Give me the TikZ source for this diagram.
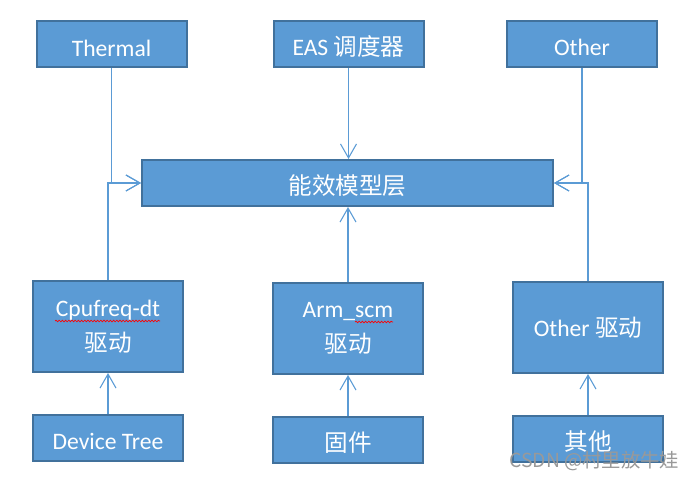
\documentclass[tikz,border=0pt]{standalone}
\usepackage{fontspec}
\setmainfont{Carlito}
\newfontfamily\cjk{Noto Sans CJK SC}
\usetikzlibrary{calc, positioning, arrows.meta, decorations.pathmorphing}

\definecolor{boxfill}{HTML}{5B9BD5}
\definecolor{boxline}{HTML}{41719C}

\tikzset{
  block/.style={draw=boxline, line width=1.5pt, fill=boxfill, text=white,
    font=\fontsize{17.7}{26}\selectfont, align=center, inner sep=0pt,
    minimum width=112.5pt, minimum height=34.5pt,
    text height=17.5pt, text depth=0pt},
  tall/.style={minimum height=68.25pt, text height=, text depth=},
  link/.style={draw=boxfill, line width=0.8pt,
    -{Straight Barb[length=10.5pt, width=12pt]}},
  squiggle/.style={draw=red, line width=0.5pt, decorate,
    decoration={snake, amplitude=0.6pt, segment length=2.4pt}}
}

\begin{document}
\begin{tikzpicture}[x=0.75pt, y=-0.75pt]
  \useasboundingbox (0,0) rectangle (700,481);

  \node[block] (thermal) at (111.5,44.5) {Thermal};
  \node[block] (eas) at (348.5,44) {EAS {\cjk 调度器}};
  \node[block] (other) at (582,44) {Other};

  \node[block, minimum width=308.25pt] (model) at (347.5,183) {\cjk 能效模型层};

  \node[block, tall] (cpufreq) at (108,326.5) {Cpufreq-dt\\{\cjk 驱动}};
  \node[block, tall] (armscm) at (348,328.5) {Arm\_scm\\{\cjk 驱动}};
  \node[block, tall] (otherdrv) at (588,327.5) {Other {\cjk 驱动}};

  \node[block] (dt) at (108,438) {Device Tree};
  \node[block] (fw) at (348,440) {\cjk 固件};
  \node[block] (misc) at (588,439) {\cjk 其他};

  \draw[link] (thermal.south) |- (model.west);
  \draw[link] (cpufreq.north) |- (model.west);
  \draw[link] (eas.south) -- (eas.south |- model.north);
  \draw[link] (other.south) |- (model.east);
  \draw[link] (otherdrv.north) |- (model.east);
  \draw[link] (armscm.north) -- (armscm.north |- model.south);

  \draw[link] (dt) -- (cpufreq);
  \draw[link] (fw) -- (armscm);
  \draw[link] (misc) -- (otherdrv);

  % spell-check marks
  \draw[squiggle] (55,321) -- (160,321);
  \draw[squiggle] (355,322) -- (393,322);

  \node[text=gray!80, font=\cjk\fontsize{14.5}{14.5}\selectfont, anchor=base east]
    (mark) at (684,467) {CSDN @村里放牛娃};
\end{tikzpicture}
\end{document}
